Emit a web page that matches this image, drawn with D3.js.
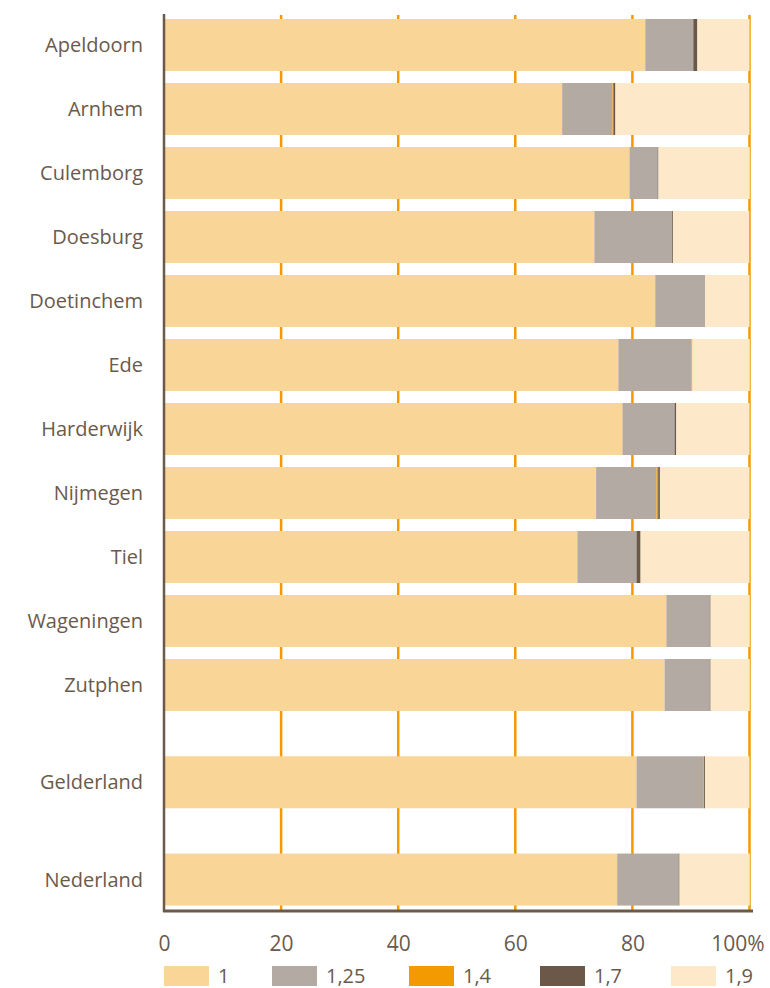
<!DOCTYPE html>
<html>
<head>
<meta charset="utf-8">
<script src="https://cdn.jsdelivr.net/npm/d3@7"></script>
<style>
  body { margin: 0; background: #fff; }
  svg text { font-family: "Open Sans", "Noto Sans", sans-serif; fill: #6b5a4c; }
</style>
</head>
<body>
<svg id="chart" width="770" height="988"></svg>
<script>
// municipalities, then province and country
var categories = ["Apeldoorn", "Arnhem", "Culemborg", "Doesburg", "Doetinchem", "Ede",
                  "Harderwijk", "Nijmegen", "Tiel", "Wageningen", "Zutphen",
                  "Gelderland", "Nederland"];
var seriesKeys = ["1", "1,25", "1,4", "1,7", "1,9"];
var seriesColors = ["#f9d597", "#b4aaa4", "#f29a00", "#6b5848", "#fde9c9"];

// shares in %
var s1   = [82.2, 68.0, 79.5, 73.5, 83.9, 77.6, 78.3, 73.8, 70.6, 85.8, 85.5, 80.7, 77.4];
var s125 = [8.2, 8.6, 4.8, 13.3, 8.5, 12.5, 8.9, 10.3, 10.1, 7.4, 7.7, 11.4, 10.5];
var s14  = [0, 0.15, 0, 0, 0, 0.15, 0, 0.3, 0, 0, 0, 0.15, 0];
var s17  = [0.7, 0.35, 0.15, 0.15, 0, 0, 0.3, 0.3, 0.7, 0.15, 0.15, 0.15, 0.15];
var s19  = [8.9, 22.9, 15.6, 13.0, 7.6, 9.8, 12.5, 15.3, 18.6, 6.7, 6.7, 7.6, 12.0];

var xTicks = [0, 20, 40, 60, 80, 100];

var svg = d3.select("#chart");
var textColor = "#6b5a4c";

var x = d3.scaleLinear().domain([0, 100]).range([164, 749.5]);

// rows are spaced evenly, the two totals get a bit of extra room
var y = d3.scaleLinear().domain([0, 1]).range([45, 109]);
var barH = 52;
function rowIndex(i) {
    if (i < 11) return i;
    return i + (i - 10) * 0.52;
}

var rows = categories.map(function(c, i) {
    return {name: c, idx: rowIndex(i), "1": s1[i], "1,25": s125[i], "1,4": s14[i], "1,7": s17[i], "1,9": s19[i]};
});

var stacked = d3.stack().keys(seriesKeys)(rows);

// grid lines behind bars
svg.append("g")
    .selectAll("line")
    .data(xTicks.slice(1))
    .enter().append("line")
    .attr("x1", function(d) { return x(d); })
    .attr("x2", function(d) { return x(d); })
    .attr("y1", 15)
    .attr("y2", 910)
    .attr("stroke", "#f29a00")
    .attr("stroke-width", 2.5);

svg.append("g")
    .selectAll("g")
    .data(stacked)
    .enter().append("g")
    .attr("fill", function(d, i) { return seriesColors[i]; })
    .selectAll("rect")
    .data(function(d) { return d; })
    .enter().append("rect")
    .attr("x", function(d) { return x(d[0]); })
    .attr("width", function(d) { return Math.max(0, x(d[1]) - x(d[0])); })
    .attr("y", function(d) { return y(d.data.idx) - barH / 2; })
    .attr("height", barH);

// axis lines
svg.append("line")
    .attr("x1", 164).attr("x2", 164)
    .attr("y1", 14).attr("y2", 912)
    .attr("stroke", textColor).attr("stroke-width", 2.5);
svg.append("line")
    .attr("x1", 163).attr("x2", 753)
    .attr("y1", 911).attr("y2", 911)
    .attr("stroke", textColor).attr("stroke-width", 3);

// category labels
svg.append("g")
    .selectAll("text")
    .data(rows)
    .enter().append("text")
    .attr("x", 143)
    .attr("y", function(d) { return y(d.idx); })
    .attr("dy", "0.35em")
    .attr("text-anchor", "end")
    .style("font-size", "20px")
    .text(function(d) { return d.name; });

// x tick labels
var xAxis = d3.axisBottom(x)
    .tickValues(xTicks)
    .tickSize(0)
    .tickFormat(function(d) { return d === 100 ? "100%" : d; });

var axisG = svg.append("g")
    .attr("transform", "translate(0,951)")
    .call(xAxis);
axisG.select(".domain").remove();
axisG.selectAll("text")
    .attr("y", 0)
    .attr("dy", 0)
    .attr("dx", function(d) { return d === 100 ? -12 : 0; })
    .style("font-size", "21px")
    .style("font-family", "\"Open Sans\", \"Noto Sans\", sans-serif")
    .attr("fill", textColor);

// legend
var legendX = [164, 272, 409, 540, 671];
var legend = svg.append("g")
    .selectAll("g")
    .data(seriesKeys)
    .enter().append("g")
    .attr("transform", function(d, i) { return "translate(" + legendX[i] + ",966)"; });
legend.append("rect")
    .attr("width", 45)
    .attr("height", 20)
    .attr("fill", function(d, i) { return seriesColors[i]; });
legend.append("text")
    .attr("x", 54)
    .attr("y", 17)
    .style("font-size", "20px")
    .text(function(d) { return d; });
</script>
</body>
</html>
